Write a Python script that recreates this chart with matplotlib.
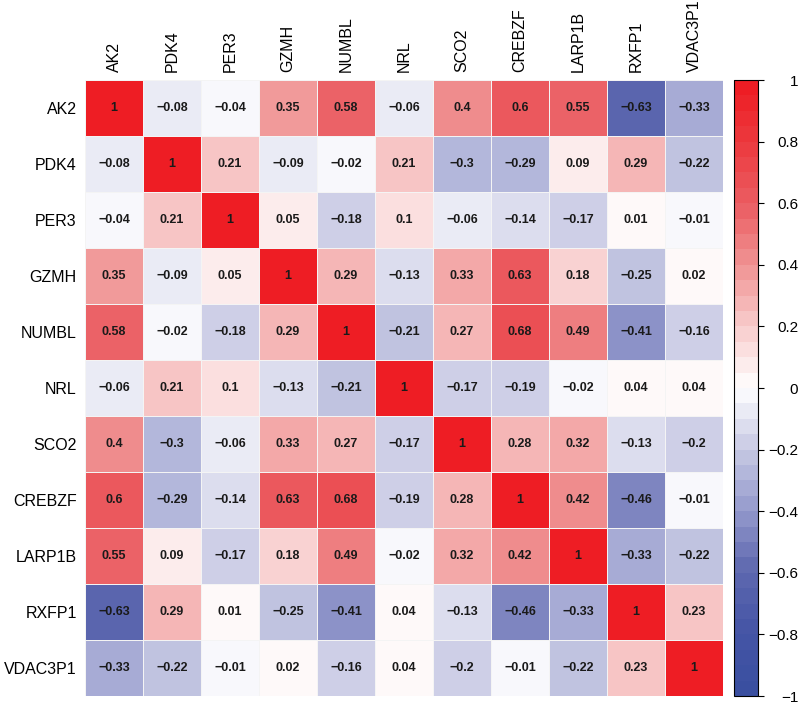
import numpy as np
import matplotlib
matplotlib.use('Agg')
import matplotlib.pyplot as plt
from matplotlib.colors import LinearSegmentedColormap

plt.rcParams['font.family'] = ['Liberation Sans', 'DejaVu Sans']

# genes (mesma ordem nas linhas e colunas)
genes = ['AK2', 'PDK4', 'PER3', 'GZMH', 'NUMBL', 'NRL', 'SCO2',
         'CREBZF', 'LARP1B', 'RXFP1', 'VDAC3P1']

# matriz de correlacao, linha por linha
corr = [
    [1, -0.08, -0.04, 0.35, 0.58, -0.06, 0.4, 0.6, 0.55, -0.63, -0.33],
    [-0.08, 1, 0.21, -0.09, -0.02, 0.21, -0.3, -0.29, 0.09, 0.29, -0.22],
    [-0.04, 0.21, 1, 0.05, -0.18, 0.1, -0.06, -0.14, -0.17, 0.01, -0.01],
    [0.35, -0.09, 0.05, 1, 0.29, -0.13, 0.33, 0.63, 0.18, -0.25, 0.02],
    [0.58, -0.02, -0.18, 0.29, 1, -0.21, 0.27, 0.68, 0.49, -0.41, -0.16],
    [-0.06, 0.21, 0.1, -0.13, -0.21, 1, -0.17, -0.19, -0.02, 0.04, 0.04],
    [0.4, -0.3, -0.06, 0.33, 0.27, -0.17, 1, 0.28, 0.32, -0.13, -0.2],
    [0.6, -0.29, -0.14, 0.63, 0.68, -0.19, 0.28, 1, 0.42, -0.46, -0.01],
    [0.55, 0.09, -0.17, 0.18, 0.49, -0.02, 0.32, 0.42, 1, -0.33, -0.22],
    [-0.63, 0.29, 0.01, -0.25, -0.41, 0.04, -0.13, -0.46, -0.33, 1, 0.23],
    [-0.33, -0.22, -0.01, 0.02, -0.16, 0.04, -0.2, -0.01, -0.22, 0.23, 1],
]
cbar_ticks = [-1, -0.8, -0.6, -0.4, -0.2, 0, 0.2, 0.4, 0.6, 0.8, 1]

data = np.array(corr)
n = len(genes)

nodes = [
    (0.0, '#3A4FA0'),
    (0.1, '#4655A6'),
    (0.2, '#5F69B0'),
    (0.3, '#969BCD'),
    (0.4, '#C8CAE4'),
    (0.5, '#FFFFFF'),
    (0.6, '#F8CDCD'),
    (0.7, '#F09696'),
    (0.8, '#EB5F64'),
    (0.9, '#EC3C41'),
    (1.0, '#EE1D24'),
]
cmap = LinearSegmentedColormap.from_list('azul_vermelho', nodes, N=40)

fig = plt.figure(figsize=(8, 7.24), dpi=100)
ax = fig.add_axes([85 / 800, 28 / 724, 638 / 800, 616 / 724])
cax = fig.add_axes([734 / 800, 28 / 724, 24 / 800, 616 / 724])

mesh = ax.pcolormesh(data, cmap=cmap, vmin=-1, vmax=1,
                     edgecolors='#F4F4F4', linewidth=0.5)
ax.set_xlim(0, n)
ax.set_ylim(n, 0)

# anotacoes
for i in range(n):
    for j in range(n):
        v = data[i, j]
        txt = f'{v:g}'.replace('-', '\u2212')
        ax.text(j + 0.5, i + 0.5, txt, ha='center', va='center',
                fontsize=9, fontweight='bold', color='#1a1a1a')

ax.set_xticks(np.arange(n) + 0.5)
ax.set_yticks(np.arange(n) + 0.5)
ax.set_xticklabels(genes, rotation=90, fontsize=11.5)
ax.set_yticklabels(genes, fontsize=11.5)
ax.xaxis.tick_top()
ax.tick_params(length=0, pad=6)
for s in ax.spines.values():
    s.set_visible(False)

cb = fig.colorbar(mesh, cax=cax, ticks=cbar_ticks)
cb.outline.set_linewidth(0.8)
# rotulos alinhados a direita, como no original
cb.ax.tick_params(labelsize=11, length=4, width=0.8, pad=25)
cb.ax.set_yticklabels([f'{t:g}'.replace('-', '\u2212') for t in cbar_ticks])
for lab in cb.ax.get_yticklabels():
    lab.set_horizontalalignment('right')

plt.savefig('out.png', dpi=100)
